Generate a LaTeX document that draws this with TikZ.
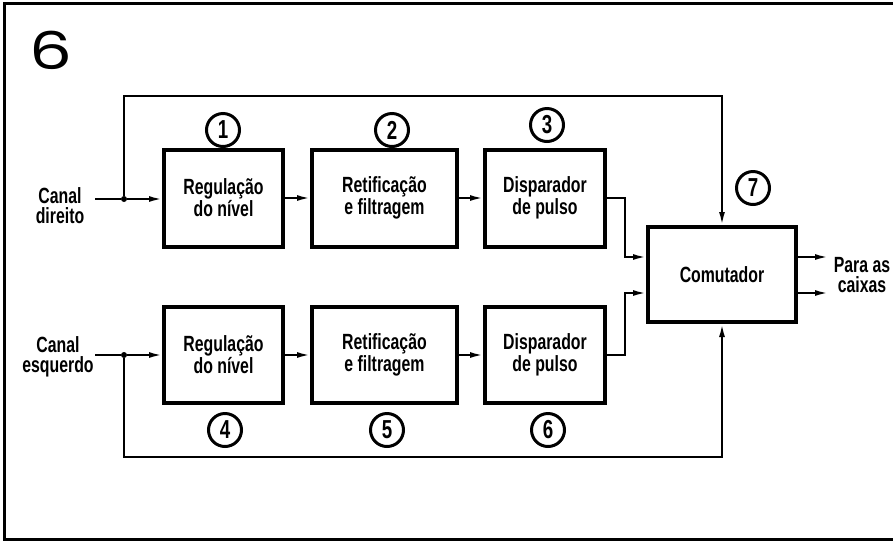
\documentclass[tikz,border=0pt]{standalone}
\usepackage{fontspec}
\usetikzlibrary{arrows.meta}
\newfontfamily\lbl[FakeStretch=0.72]{Liberation Sans}
\newfontfamily\bignum{Poppins}
\tikzset{
  x=1pt, y=-1pt,
  blk/.style={draw, line width=4pt, minimum width=#1, minimum height=97pt, inner sep=0pt,
    align=center, font=\lbl\bfseries\fontsize{22}{20}\selectfont},
  blk/.default=120pt,
  num/.style={draw, circle, line width=3pt, minimum size=33pt, inner sep=0pt,
    font=\lbl\bfseries\fontsize{26}{26}\selectfont},
  txt/.style={align=center, inner sep=0pt, font=\lbl\bfseries\fontsize{22}{20}\selectfont},
  wire/.style={line width=2pt},
  arr/.style={wire, -{Latex[length=13pt,width=6pt]}},
  jdot/.style={circle, fill, inner sep=0pt, minimum size=6pt}
}
\begin{document}
\begin{tikzpicture}
\useasboundingbox (0,0) rectangle (893,542);
% frame
\draw[line width=3pt] (895,3) -- (4.5,3) -- (4.5,539) -- (895,539);
\node[font=\bignum\fontsize{52}{52}\selectfont, inner sep=0pt, xscale=1.3] (six) at (51,50) {6};

% top row
\node[blk=119pt] (b1) at (223.5,198) {Regulação\\do nível};
\node[blk=145pt] (b2) at (384.5,198) {Retificação\\e filtragem};
\node[blk=120pt] (b3) at (545,198) {Disparador\\de pulso};
% bottom row
\node[blk=119pt, minimum height=96pt] (b4) at (223.5,355) {Regulação\\do nível};
\node[blk=145pt, minimum height=96pt] (b5) at (384.5,355) {Retificação\\e filtragem};
\node[blk=120pt, minimum height=96pt] (b6) at (545,355) {Disparador\\de pulso};
% switch
\node[blk=148pt, minimum height=95pt] (com) at (722,274.5) {Comutador};

% numbers
\node[num] (n1) at (223,130) {1};
\node[num] (n2) at (392,130) {2};
\node[num] (n3) at (547,125) {3};
\node[num] (n7) at (753,188) {7};
\node[num] (n4) at (225,430) {4};
\node[num] (n5) at (387,430) {5};
\node[num] (n6) at (548,430) {6};

% labels
\node[txt] (cd) at (60,206) {Canal\\direito};
\node[txt] (ce) at (58,357) {Canal\\esquerdo};
\node[txt] (pc) at (862,275) {Para as\\caixas};

% inputs
\coordinate (inR) at (95,199);
\coordinate (inL) at (95,355);
\node[jdot] (jR) at (124,199) {};
\node[jdot] (jL) at (124,355) {};
\draw[wire] (inR) -- (jR);
\draw[wire] (inL) -- (jL);
\draw[arr] (jR) -- (b1.west |- jR);
\draw[arr] (jL) -- (b4.west |- jL);

% chain arrows
\draw[arr] (b1.east) -- (b2.west);
\draw[arr] (b2.east) -- (b3.west);
\draw[arr] (b4.east) -- (b5.west);
\draw[arr] (b5.east) -- (b6.west);

% to switch
\draw[arr] (b3.east) -| (625,257) -- (com.west |- 0,257);
\draw[arr] (b6.east) -| (625,293) -- (com.west |- 0,293);

% feedback
\draw[arr] (jR) |- (722,96) -- (com.north);
\draw[arr] (jL) |- (722,457) -- (com.south);

% outputs
\coordinate (o1) at (828,257);
\coordinate (o2) at (828,293);
\draw[arr] (com.east |- o1) -- (o1);
\draw[arr] (com.east |- o2) -- (o2);
\end{tikzpicture}
\end{document}
